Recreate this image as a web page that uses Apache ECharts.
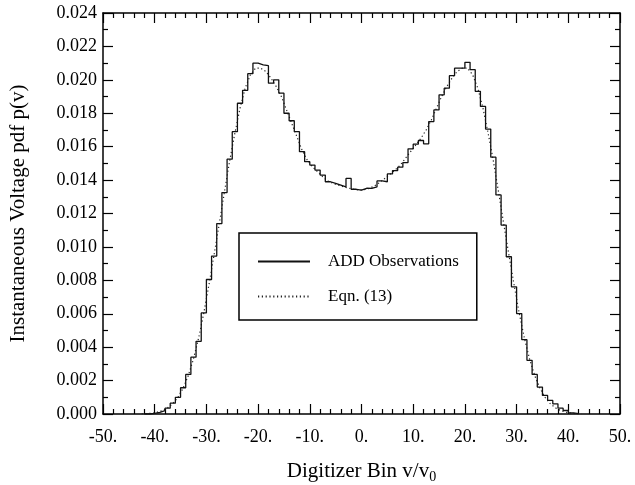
<!DOCTYPE html>
<html><head><meta charset="utf-8">
<script src="https://cdn.jsdelivr.net/npm/echarts@6/dist/echarts.min.js"></script>
<style>html,body{margin:0;padding:0;background:#fff}#c{width:635px;height:485px}</style>
</head><body><div id="c"></div>
<script>
// Histogram bins: value at x = left edge of a 1-unit bin
const histX = [-42,-41,-40,-39,-38,-37,-36,-35,-34,-33,-32,-31,-30,-29,-28,-27,-26,-25,-24,-23,-22,-21,-20,-19,-18,-17,-16,-15,-14,-13,-12,-11,-10,-9,-8,-7,-6,-5,-4,-3,-2,-1,0,1,2,3,4,5,6,7,8,9,10,11,12,13,14,15,16,17,18,19,20,21,22,23,24,25,26,27,28,29,30,31,32,33,34,35,36,37,38,39,40,41,42];
const histY = [0,0.00004,0.0001,0.0002,0.00035,0.00065,0.001,0.00157,0.00237,0.0034,0.00435,0.00605,0.00805,0.00945,0.0114,0.01325,0.01525,0.0169,0.0186,0.01937,0.02037,0.0210,0.0209,0.02085,0.0198,0.0200,0.0192,0.0180,0.01755,0.0169,0.0157,0.0151,0.0149,0.0146,0.0143,0.0139,0.0138,0.0137,0.0136,0.0141,0.01345,0.0134,0.01351,0.0135,0.0136,0.01395,0.0139,0.01437,0.01457,0.01477,0.01505,0.01587,0.01615,0.01637,0.01617,0.0175,0.0182,0.0191,0.0195,0.02025,0.0207,0.0207,0.02105,0.02061,0.01931,0.01841,0.01705,0.01537,0.01311,0.01131,0.00941,0.00761,0.00601,0.00445,0.00321,0.00237,0.00161,0.00111,0.00081,0.00061,0.00035,0.00021,0.00007,0.00002,0];
// Eqn. (13) curve
const eqnX = [-42.5,-41.5,-40.5,-39.5,-38.5,-37.5,-36.5,-35.5,-34.5,-33.5,-32.5,-31.5,-30.5,-29.5,-28.5,-27.5,-26.5,-25.5,-24.5,-23.5,-22.5,-21.5,-20.5,-19.5,-18.5,-17.5,-16.5,-15.5,-14.5,-13.5,-12.5,-11.5,-10.5,-9.5,-8.5,-7.5,-6.5,-5.5,-4.5,-3.5,-2.5,-1.5,-0.5,0.5,1.5,2.5,3.5,4.5,5.5,6.5,7.5,8.5,9.5,10.5,11.5,12.5,13.5,14.5,15.5,16.5,17.5,18.5,19.5,20.5,21.5,22.5,23.5,24.5,25.5,26.5,27.5,28.5,29.5,30.5,31.5,32.5,33.5,34.5,35.5,36.5,37.5,38.5,39.5,40.5,41.5,42.5];
const eqnY = [0.00001,0.00002,0.00005,0.00011,0.00021,0.00037,0.00062,0.00100,0.00155,0.00230,0.00330,0.00455,0.00605,0.00775,0.00955,0.01140,0.01330,0.01515,0.01680,0.01830,0.01950,0.02030,0.02070,0.02070,0.02050,0.02010,0.01960,0.01900,0.01820,0.01740,0.01660,0.01580,0.01520,0.01480,0.01450,0.01420,0.01395,0.01380,0.01370,0.01360,0.01352,0.01345,0.01340,0.01342,0.01350,0.01365,0.01385,0.01410,0.01435,0.01460,0.01490,0.01530,0.01570,0.01610,0.01650,0.01700,0.01760,0.01830,0.01900,0.01960,0.02010,0.02050,0.02070,0.02070,0.02030,0.01950,0.01830,0.01680,0.01515,0.01330,0.01140,0.00955,0.00775,0.00605,0.00455,0.00330,0.00230,0.00155,0.00100,0.00062,0.00037,0.00021,0.00011,0.00005,0.00002,0.00001];
const seriesNames = ['ADD Observations', 'Eqn. (13)'];
const xTitle = 'Digitizer Bin v/v{sub|0}';
const yTitle = 'Instantaneous Voltage pdf p(v)';

const FONT = '"Liberation Serif","Times New Roman",serif';
const zip = (a, b) => a.map((v, i) => [v, b[i]]);
const lineC = {color: '#000', width: 1.5};
const tickC = {color: '#000', width: 1.2};

const chart = echarts.init(document.getElementById('c'));
chart.setOption({
  animation: false,
  backgroundColor: '#fff',
  grid: {left: 103, right: 15, top: 13, bottom: 71, outerBoundsMode: 'none', containLabel: false},
  legend: {
    left: 239, top: 233, orient: 'vertical',
    backgroundColor: '#fff',
    borderColor: '#000', borderWidth: 1.5, borderRadius: 0,
    padding: [20, 18, 15, 18],
    itemWidth: 52, itemHeight: 20, itemGap: 18,
    itemStyle: {opacity: 0},
    data: seriesNames,
    textStyle: {fontFamily: FONT, fontSize: 17, color: '#000', padding: [0, 0, 0, 13]}
  },
  xAxis: [{
    type: 'value', min: -50, max: 50, interval: 10, position: 'bottom',
    axisLine: {onZero: false, lineStyle: lineC},
    axisTick: {inside: true, length: 10, lineStyle: tickC},
    minorTick: {show: true, splitNumber: 5, length: 5, lineStyle: tickC},
    splitLine: {show: false},
    axisLabel: {formatter: v => v + '.', margin: 14, fontSize: 18, color: '#000', fontFamily: FONT},
    name: xTitle, nameLocation: 'middle', nameGap: 44,
    nameTextStyle: {fontFamily: FONT, fontSize: 21, color: '#000',
      rich: {sub: {fontFamily: FONT, fontSize: 14, color: '#000', padding: [12, 0, 0, 0]}}}
  }, {
    type: 'value', min: -50, max: 50, interval: 10, position: 'top',
    axisLine: {onZero: false, lineStyle: lineC},
    axisTick: {inside: true, length: 10, lineStyle: tickC},
    minorTick: {show: true, splitNumber: 5, length: 5, lineStyle: tickC},
    splitLine: {show: false}, axisLabel: {show: false}
  }],
  yAxis: [{
    type: 'value', min: 0, max: 0.024, interval: 0.002, position: 'left',
    axisLine: {onZero: false, lineStyle: lineC},
    axisTick: {inside: true, length: 10, lineStyle: tickC},
    minorTick: {show: true, splitNumber: 2, length: 5, lineStyle: tickC},
    splitLine: {show: false},
    axisLabel: {formatter: v => v.toFixed(3), margin: 6, fontSize: 18, color: '#000', fontFamily: FONT},
    name: yTitle, nameLocation: 'middle', nameGap: 74,
    nameTextStyle: {fontFamily: FONT, fontSize: 21, color: '#000'}
  }, {
    type: 'value', min: 0, max: 0.024, interval: 0.002, position: 'right',
    axisLine: {onZero: false, lineStyle: lineC},
    axisTick: {inside: true, length: 10, lineStyle: tickC},
    minorTick: {show: true, splitNumber: 2, length: 5, lineStyle: tickC},
    splitLine: {show: false}, axisLabel: {show: false}
  }],
  series: [{
    name: seriesNames[0], type: 'line', step: 'end',
    data: zip(histX, histY), showSymbol: false, symbol: 'none',
    lineStyle: {color: '#111', width: 1.3}, itemStyle: {color: '#111'}, z: 3
  }, {
    name: seriesNames[1], type: 'line',
    data: zip(eqnX, eqnY), showSymbol: false, symbol: 'none',
    lineStyle: {color: '#222', width: 1.2, type: [1.2, 2.6]}, itemStyle: {color: '#222'}, z: 2
  }]
});
</script></body></html>
